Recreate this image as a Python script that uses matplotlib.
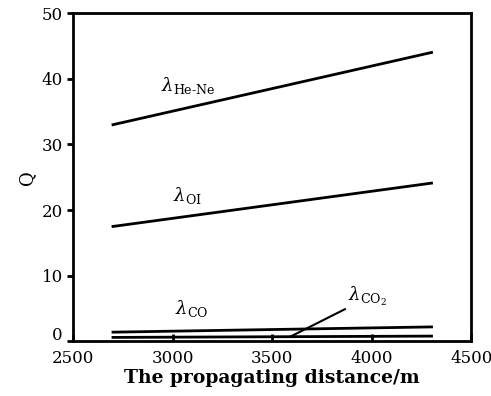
import matplotlib
matplotlib.use("Agg")
import matplotlib.pyplot as plt
import matplotlib.transforms as mtransforms

# distance (m) at the line ends, and Q for each wavelength
distance = [2700, 4300]
q_hene = [33.0, 44.0]
q_oi = [17.5, 24.1]
q_co = [1.4, 2.2]
q_co2 = [0.6, 0.8]

plt.rcParams['font.family'] = ['DejaVu Serif']
plt.rcParams['mathtext.fontset'] = 'dejavuserif'

fig = plt.figure(figsize=(4.91, 3.96), dpi=100)
ax = fig.add_axes([0.149, 0.138, 0.811, 0.829])

for q in (q_hene, q_oi, q_co, q_co2):
    ax.plot(distance, q, color='black', linewidth=2)

ax.text(2940, 38.9, r'$\lambda_{\mathrm{He\text{-}Ne}}$', fontsize=13, va='center')
ax.text(3000, 22.2, r'$\lambda_{\mathrm{OI}}$', fontsize=13, va='center')
ax.text(3010, 5.0, r'$\lambda_{\mathrm{CO}}$', fontsize=13, va='center')
ax.text(3880, 6.8, r'$\lambda_{\mathrm{CO_2}}$', fontsize=13, va='center')
ax.plot([3590, 3865], [0.7, 4.9], color='black', linewidth=1.5)

ax.set_xlim(2500, 4500)
ax.set_ylim(0, 50)
ax.set_xticks([2500, 3000, 3500, 4000, 4500])
ax.set_yticks([0, 10, 20, 30, 40, 50])
ax.tick_params(axis='x', direction='in', length=5, width=2, labelsize=12, pad=6)
ax.tick_params(axis='y', direction='out', length=4, width=2, labelsize=12)
for s in ax.spines.values():
    s.set_linewidth(2)

# lift the "0" label a little so it clears "2500"
fig.canvas.draw()
zero_label = ax.get_yticklabels()[0]
zero_label.set_transform(zero_label.get_transform() +
                         mtransforms.ScaledTranslation(0, 6 / 72, fig.dpi_scale_trans))

ax.set_xlabel('The propagating distance/m', fontsize=13.5, fontweight='bold', labelpad=2)
ax.set_ylabel('Q', fontsize=13, labelpad=4)

fig.savefig('out.png', dpi=100)
